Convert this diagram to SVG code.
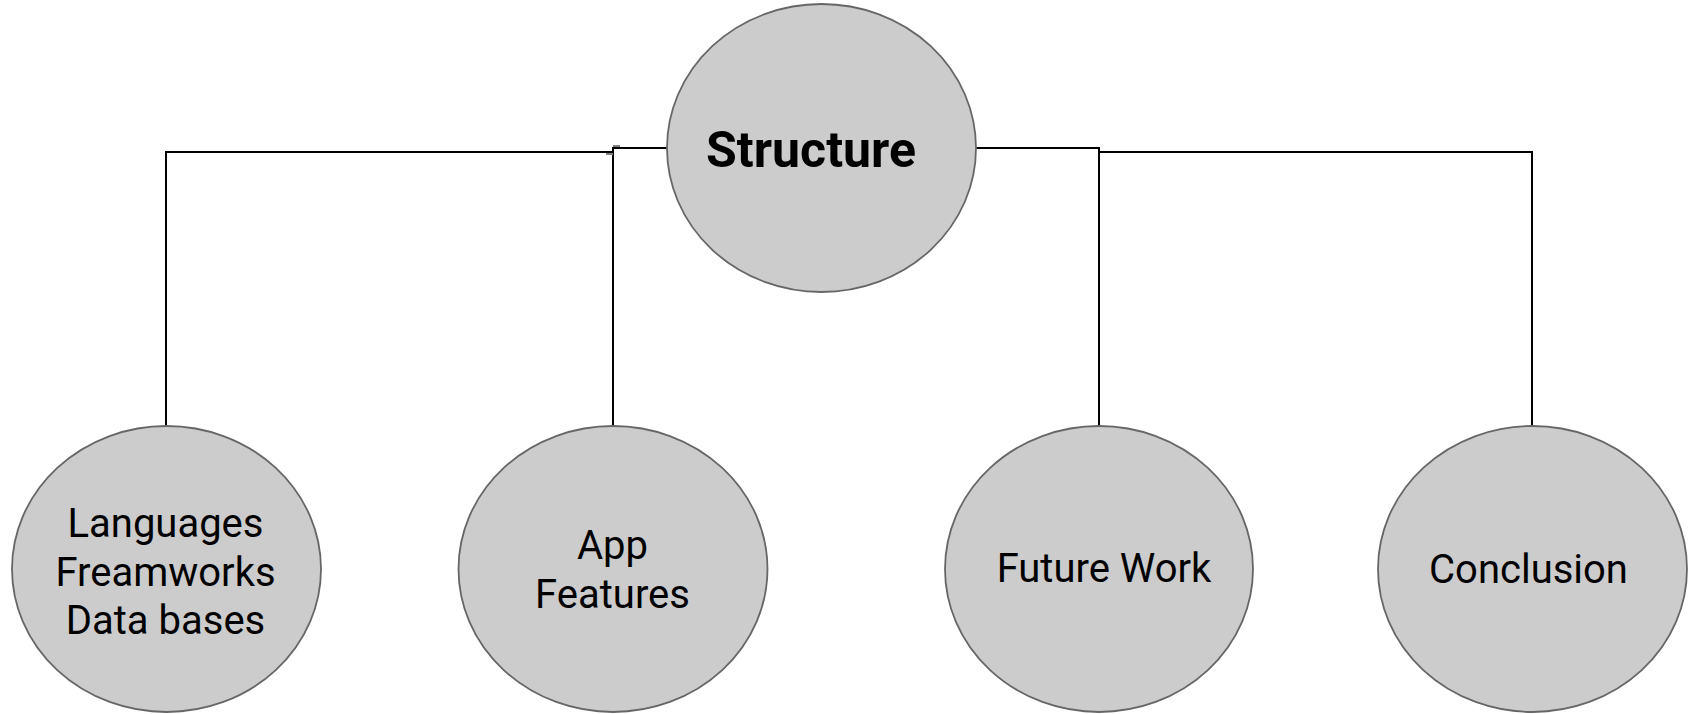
<svg xmlns="http://www.w3.org/2000/svg" width="1688" height="714" viewBox="0 0 1688 714">
<style>
.node{fill:#cccccc;stroke:#666666;stroke-width:1.8}
.lbl{font-family:Roboto,"Liberation Sans",sans-serif;font-size:40px;fill:#000;text-anchor:middle}
.title{font-family:Roboto,"Liberation Sans",sans-serif;font-size:50px;font-weight:bold;fill:#000;text-anchor:middle}
.conn{fill:none;stroke:#000;stroke-width:2}
.tick{fill:none;stroke:#808080;stroke-width:2}
</style>
<rect width="1688" height="714" fill="#ffffff"/>
<g id="connectors">
<polyline class="conn" points="166,426 166,152 613,152"/>
<polyline class="conn" points="613,426 613,148 667,148"/>
<polyline class="conn" points="976,148 1099,148 1099,426"/>
<polyline class="conn" points="1099,152 1532,152 1532,426"/>
<line class="tick" x1="613" y1="146" x2="620" y2="146"/>
<line class="tick" x1="606" y1="154" x2="613" y2="154"/>
</g>
<g id="structure">
<ellipse class="node" cx="821.5" cy="148" rx="154.5" ry="144"/>
<text class="title" x="811" y="167">Structure</text>
</g>
<g id="languages">
<ellipse class="node" cx="166.5" cy="569" rx="154.5" ry="143"/>
<text class="lbl" x="165.5" y="537">Languages</text>
<text class="lbl" x="165.5" y="586">Freamworks</text>
<text class="lbl" x="165.5" y="634">Data bases</text>
</g>
<g id="app-features">
<ellipse class="node" cx="613" cy="569" rx="154.5" ry="143"/>
<text class="lbl" x="612.5" y="559">App</text>
<text class="lbl" x="612.5" y="608">Features</text>
</g>
<g id="future-work">
<ellipse class="node" cx="1099" cy="569" rx="154" ry="143"/>
<text class="lbl" x="1104" y="582">Future Work</text>
</g>
<g id="conclusion">
<ellipse class="node" cx="1532.5" cy="569" rx="154.5" ry="143"/>
<text class="lbl" x="1528.5" y="583">Conclusion</text>
</g>
</svg>
